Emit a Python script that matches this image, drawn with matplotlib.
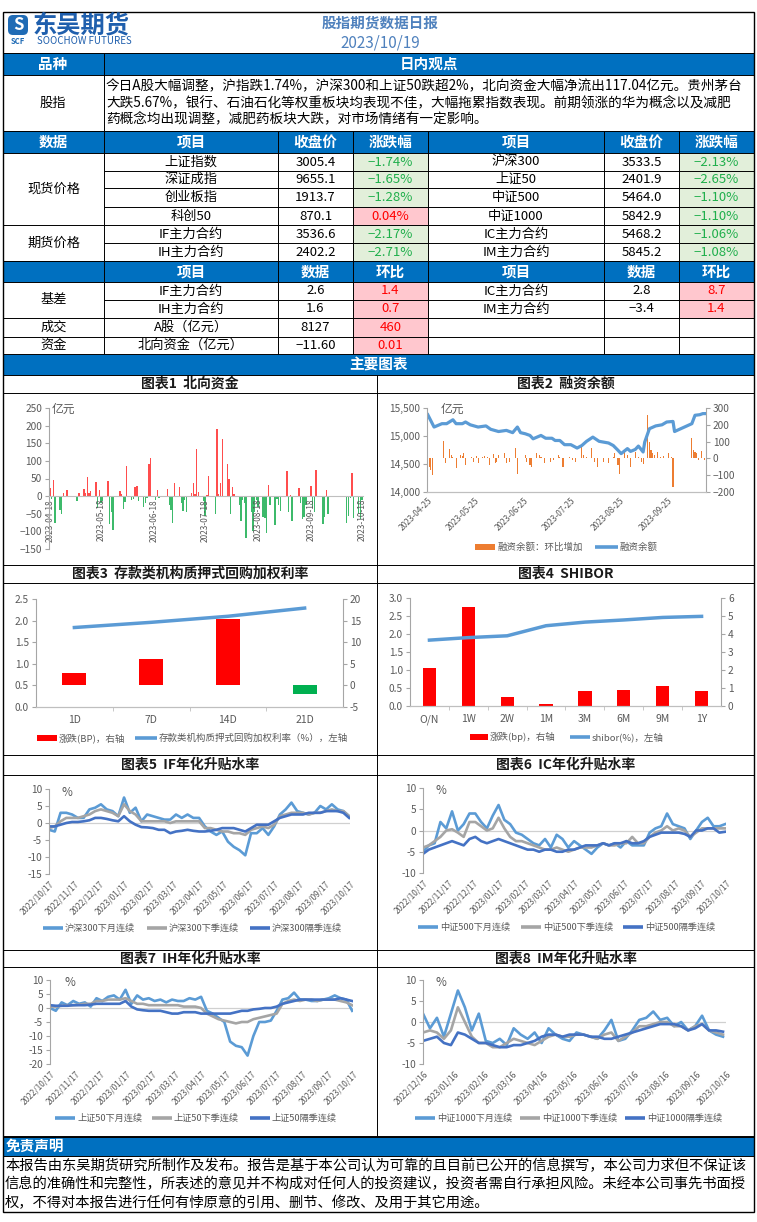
import matplotlib
matplotlib.use('Agg')
import matplotlib.pyplot as plt
from matplotlib.patches import Rectangle, FancyBboxPatch
from matplotlib.ticker import FuncFormatter
import matplotlib.dates as mdates
import numpy as np
import pandas as pd

plt.rcParams['font.family'] = ['Noto Sans CJK SC', 'DejaVu Sans']

W, H = 757, 1222
BLUE = '#0070C0'
GRAY_TXT = '#595959'
AXIS_C = '#BFBFBF'
RED_TXT, RED_BG = '#FF0000', '#FFC7CE'
GRN_TXT, GRN_BG = '#1FAF4B', '#E2EFDA'
C_M, C_Q, C_N = '#5B9BD5', '#A5A5A5', '#4472C4'

# ---------------- table data ----------------
report_date = '2023/10/19'
comment = ['今日A股大幅调整，沪指跌1.74%，沪深300和上证50跌超2%，北向资金大幅净流出117.04亿元。贵州茅台',
           '大跌5.67%，银行、石油石化等权重板块均表现不佳，大幅拖累指数表现。前期领涨的华为概念以及减肥',
           '药概念均出现调整，减肥药板块大跌，对市场情绪有一定影响。']

spot_names_l = ['上证指数', '深证成指', '创业板指', '科创50']
spot_close_l = [3005.4, 9655.1, 1913.7, 870.1]
spot_chg_l = [-1.74, -1.65, -1.28, 0.04]
spot_names_r = ['沪深300', '上证50', '中证500', '中证1000']
spot_close_r = [3533.5, 2401.9, 5464.0, 5842.9]
spot_chg_r = [-2.13, -2.65, -1.10, -1.10]

fut_names_l = ['IF主力合约', 'IH主力合约']
fut_close_l = [3536.6, 2402.2]
fut_chg_l = [-2.17, -2.71]
fut_names_r = ['IC主力合约', 'IM主力合约']
fut_close_r = [5468.2, 5845.2]
fut_chg_r = [-1.06, -1.08]

basis_names_l = ['IF主力合约', 'IH主力合约']
basis_l = [2.6, 1.6]
basis_chg_l = [1.4, 0.7]
basis_names_r = ['IC主力合约', 'IM主力合约']
basis_r = [2.8, -3.4]
basis_chg_r = [8.7, 1.4]

misc_names = ['A股（亿元）', '北向资金（亿元）']
misc_vals = [8127, -11.60]
misc_chg = [460, 0.01]
misc_fmt = ['{:.0f}', '{:.2f}']

disclaimer = ['本报告由东吴期货研究所制作及发布。报告是基于本公司认为可靠的且目前已公开的信息撰写，本公司力求但不保证该',
              '信息的准确性和完整性，所表述的意见并不构成对任何人的投资建议，投资者需自行承担风险。未经本公司事先书面授',
              '权，不得对本报告进行任何有悖原意的引用、删节、修改、及用于其它用途。']

# ---------------- chart 1: northbound flow (亿元), trading days ----------------
nb_dates = pd.bdate_range('2023-04-18', '2023-10-18')
nb_vals = [22, -8, 47, -75, -40, -50, 8, 0, 16,
           0, 0, 0, -15, 8, 20, 10, 55, 8, 14, 40, -33, 16, -20, -15, 43, -80, -45, -95, 0, 14, 6, -37,
           -17, 86, -12, -8, 25, 30, -15, -30, -20, -5, 92, 107, -12, 18, -5, 0, 0, 20, -25, -40, -75, 36,
           27, -20, -43, -12, -45, 10, 36, 5, 135, 12, -15, -55, 2, 58, 0, -52, 190, 5, 37, 163, 92,
           48, -50, 27, 5, -25, -70, -12, -20, -120, -45, -100, -45, -12, -30, -60, -62, -105, 32, -25, -82, -8, -25, -42,
           0, 70, -45, 4, -70, 0, 22, -20, -65, -60, -25, 30, -35, -45, 75, 0, -80, -60, 18, -50, 0,
           0, 0, 0, 0, 0, -75, -55, -5, 67, -62, -50, -65, -11.6]
nb_ticks = pd.date_range('2023-04-18', '2023-10-18', freq=pd.DateOffset(months=1))

# ---------------- chart 2: margin balance ----------------
mr_start = pd.Timestamp('2023-04-25')
mr_bar_days = [0, 1, 2, 3, 10, 11, 14, 15, 16, 18, 21, 22, 23, 24, 28, 29, 31, 32, 35, 36, 38, 39, 42, 43, 44, 45,
               49, 50, 52, 56, 57, 62, 63, 65, 66, 69, 71, 72, 74, 77, 78, 80, 83, 84, 86, 90, 92, 94, 98, 99, 101,
               104, 106, 108, 112, 115, 118, 119, 121, 122, 125, 127, 129, 132, 134, 136, 137, 140, 141, 142, 143,
               144, 146, 148, 150, 153, 155, 156, 168, 169, 170, 171, 172, 174, 176]
mr_bar_vals = [-80, -50, -70, -100, 105, -30, 55, 20, 10, -60, 20, 15, 35, -40, 10, -20, 15, -30, 10, 15, 10, -40,
               25, -30, -20, 20, 30, -30, -20, 60, -90, 20, -20, -40, -50, 30, 20, 10, -30, 5, -20, -10, 20, 10,
               -50, 10, -10, -20, 70, 20, 10, 60, -20, -50, -20, -30, 10, 30, -40, -90, 40, 20, -50, 40, 10, -20,
               -35, 260, 100, 50, 30, 20, 40, 10, 15, 35, 10, -170, 120, 50, 40, 30, -10, 45, -10]
mr_line_days = [0, 4, 9, 12, 16, 18, 22, 24, 27, 32, 37, 40, 45, 50, 54, 57, 59, 62, 65, 67, 72, 75, 79, 81, 84,
                87, 91, 95, 98, 101, 105, 109, 112, 115, 118, 121, 123, 127, 129, 132, 134, 137, 138, 141, 145,
                149, 152, 156, 157, 168, 170, 173, 175, 177]
mr_line_vals = [15380, 15160, 15220, 15220, 15290, 15220, 15220, 15250, 15200, 15160, 15180, 15120, 15080, 15100,
                15060, 15160, 15060, 15040, 15010, 14950, 15010, 14960, 14960, 14920, 14920, 14845, 14845, 14785,
                14830, 14905, 14980, 14905, 14890, 14875, 14830, 14745, 14685, 14775, 14725, 14760, 14820, 14715,
                14890, 15130, 15180, 15200, 15250, 15260, 15080, 15220, 15370, 15380, 15400, 15400]
mr_ticks = pd.date_range('2023-04-25', '2023-09-25', freq=pd.DateOffset(months=1))

# ---------------- chart 3: repo rates ----------------
repo_terms = ['1D', '7D', '14D', '21D']
repo_rate = [1.84, 1.96, 2.10, 2.29]
repo_chg = [2.8, 6.0, 15.3, -2.1]

# ---------------- chart 4: SHIBOR ----------------
shibor_terms = ['O/N', '1W', '2W', '1M', '3M', '6M', '9M', '1Y']
shibor_rate = [1.83, 1.90, 1.95, 2.23, 2.33, 2.39, 2.46, 2.49]
shibor_chg = [2.1, 5.5, 0.5, 0.13, 0.82, 0.91, 1.12, 0.82]

# ---------------- charts 5-8: annualised basis (weekly samples) ----------------
basis_dates = pd.date_range('2022-10-17', periods=53, freq='7D')
basis_ticks = pd.date_range('2022-10-17', '2023-10-17', freq=pd.DateOffset(months=1))
if_m = [-2, -2.5, 3, 3, 2.5, 1.5, 1.5, 4, 4.5, 5.5, 4, 3.5, 2, 7.5, 3, 4.5, 0.5, 2.5, 2, 1.5,
        1, 1, 2.5, 1.5, 2.5, 1.5, 1.5, -1, -2.5, -3.5, -2.5, -5.5, -7, -8, -9.5, -3, -3, -1.5, -3.5, -1,
        2.5, 4, 6, 3.5, 3, 2.5, 3, 5, 4, 5.5, 4, 3.5, 2]
if_q = [-1.5, -1, 0.5, 1.5, 1.5, 1.5, 2, 2.5, 3.5, 4, 3.5, 3, 2, 5.5, 3.5, 2.5, 0.5, 0.5, 0.5, 0.5,
        0.5, 0, 0.5, 0.5, 0.5, 0.5, 0.5, -1.5, -1.5, -2, -2.5, -2.5, -3, -3, -3.5, -2, -1.5, -1, -1.5, -0.5,
        2, 2.5, 3, 3, 3, 2.5, 3, 3, 3.5, 4, 3.5, 3.5, 2]
if_n = [-1, -1, -0.5, 0, 0.3, 0.3, 0.5, 0.8, 1.5, 1.5, 1.2, 0.8, 0.5, 2, 0.5, -0.5, -1.2, -1.3, -1.5, -2,
        -2, -3, -2.5, -2.3, -2, -2.3, -2.5, -2.5, -2.3, -2, -1.5, -1.5, -1.5, -2, -2.5, -1.5, -0.5, -0.5, -0.5, 0.5,
        1.5, 2, 2.5, 2.5, 2.5, 3, 3, 3, 3.5, 3.5, 3.5, 3, 1.5]

ic_m = [-5, -3.5, -3, 2, 0.5, 4.5, 0, 1.5, 4, 4, 2, 0.5, 3.5, 6, 2.5, 1.5, -0.5, -1, -2, -3,
        -3.5, -2, -4, -1, -2, -4, -2.5, -3.5, -4.5, -5.5, -4, -3, -3.5, -3, -4, -2.5, -3.5, -3.5, -3.5, -0.5,
        0.5, 1, 4, 1.5, 1, 0.5, -2, 0, 2, 3, 1, 1, 1.5]
ic_q = [-4, -3.5, -2.5, -1.5, 0, 0.3, -0.5, -1.5, 2, 2, 1, 0, 0.5, 3, 0.5, -1.5, -2.5, -2.5, -3, -3.5,
        -4, -4.5, -4.5, -4, -4.5, -5, -4.5, -4, -4, -4, -3.5, -3, -3.5, -3.5, -3, -3, -1.5, -3, -3, -1.5,
        -0.5, 0, 1, 0, 0.5, 0, -1.5, -0.5, 0.5, 0.5, 0.5, 0.5, 0.5]
ic_n = [-5.5, -4.5, -4, -3.5, -3, -2.5, -3, -3.5, -2, -1.5, -2.5, -3, -2.5, -2, -2.5, -3, -3.5, -4, -4.5, -4.5,
        -5, -4.5, -4.5, -5, -5, -4.5, -4.5, -4, -3.5, -3.5, -3.5, -3, -3.5, -3, -3, -2.5, -3, -3, -2.5, -1.5,
        -1, -0.5, -0.5, -0.5, -0.5, -0.8, -1.5, 0, 0, 0.5, 0.5, -0.5, -0.3]

ih_m = [0, -1, 2, 1, 2.5, 1.5, 2, 0.5, 3.5, 2.5, 4, 4.5, 3, 6.5, 1.5, 4.5, 3, 3.5, 2.5, 3,
        2, 3, 2.5, 2.5, 3.5, 3, 4, -1, -2, -3.5, -5, -12, -13.5, -14, -17, -10, -5, -5, -4.5, -1,
        3, 3.5, 5.5, 3, 3, 2.5, 2.5, 3, 3.5, 4.5, 3.5, 3, -1]
ih_q = [0.5, 0.5, 0.8, 1, 1, 1.2, 1.5, 1.5, 2.5, 2.5, 3, 3, 3, 3.5, 2.5, 1.5, 1.5, 1, 1, 1,
        1, 1, 1, 0.5, 0.5, 0.5, 0, -2, -3, -4, -4.5, -5, -5.5, -5, -5, -4, -3.5, -3, -2.5, -2,
        1.5, 2.5, 3, 2.5, 3, 3, 2.5, 3, 3, 3, 2.5, 2, 1]
ih_n = [1, 0.8, 0.8, 0.8, 1, 1, 1, 1.2, 1.5, 1.5, 1.5, 1.5, 1.5, 2.5, 0.5, -0.5, -0.8, -1, -1, -1,
        -1.5, -2, -2, -1.5, -1.5, -1.5, -2, -2, -2, -2, -2, -2, -1.5, -1, -1, -0.5, -0.3, 0, 0, 0.5,
        1.5, 2, 2.5, 3, 3, 3, 3, 3, 3, 3, 3.5, 3, 2.5]

im_dates = pd.date_range('2022-12-16', periods=44, freq='7D')
im_ticks = pd.date_range('2022-12-16', '2023-10-16', freq=pd.DateOffset(months=1))
im_m = [2, -1.5, 1, -3.5, 2, 7.5, 3.5, -2, 2, -4.5, -5, -4, -5.5, -1.5, -3, -4, -2.5, -5, -1.5, -3,
        -4, -4.5, -2.5, -3, -3.5, -4, -2, 0.5, -4.5, -4, -2, 0.5, 1, 2.5, 0.5, 1, -1, 0, -2, -1,
        1.5, -2, -3, -3.5]
im_q = [-2.5, -2, -2.5, -4, -2, 3.5, 0, -3.5, -5, -5, -6, -6, -5, -4, -4.5, -5, -5.5, -4.5, -3.5, -3,
        -3.5, -3.5, -3, -3, -3.5, -4, -3, -2.5, -4.5, -3.5, -2.5, -1, -1, -0.5, 0, 0, -1, -1, -2, -1,
        -0.5, -2, -2.5, -3]
im_n = [-4.5, -4, -3.5, -5, -5.5, -2.5, -3, -4, -5, -5, -5.5, -6, -6, -5.5, -5.5, -5, -4.5, -3.5, -3, -3,
        -3.5, -3, -3, -3, -3.5, -3.5, -4, -4, -3.5, -3, -2.5, -2, -1.5, -1, -0.5, -0.5, -0.5, -1, -2, -1.5,
        -0.5, -2, -2, -2.3]

# ================= drawing =================
fig = plt.figure(figsize=(W / 100, H / 100), dpi=100)
bg = fig.add_axes([0, 0, 1, 1])
bg.set_xlim(0, W)
bg.set_ylim(H, 0)
bg.axis('off')


def box(x0, y0, x1, y1):
    ax = fig.add_axes([x0 / W, 1 - y1 / H, (x1 - x0) / W, (y1 - y0) / H])
    ax.set_facecolor('none')
    return ax


def rect(x0, y0, x1, y1, fc):
    bg.add_patch(Rectangle((x0, y0), x1 - x0, y1 - y0, fc=fc, ec='none'))


def hl(y, x0=3, x1=754, lw=0.7):
    bg.plot([x0, x1], [y, y], color='black', lw=lw, solid_capstyle='butt')


def vl(x, y0, y1, lw=0.7):
    bg.plot([x, x], [y0, y1], color='black', lw=lw, solid_capstyle='butt')


def txt(x, y, s, size=9.5, color='black', ha='center', weight='normal'):
    bg.text(x, y, s, fontsize=size, color=color, ha=ha, va='center', fontweight=weight)


def pct(v):
    return f'{v:.2f}%'.replace('-', '−')


def num(v, f='{:.1f}'):
    return f.format(v).replace('-', '−')


# ---- header ----
bg.add_patch(FancyBboxPatch((8, 15), 20, 20, boxstyle='round,pad=0,rounding_size=5', fc='#1F6BB5', ec='none'))
txt(18, 25, 'S', 12, 'white', weight='bold')
txt(18, 41, 'SCF', 5.5, '#1F6BB5', weight='bold')
txt(33, 25, '东吴期货', 17.5, '#1F5FAD', ha='left', weight='bold')
txt(37, 41, 'SOOCHOW FUTURES', 7, '#1F5FAD', ha='left')
txt(380, 23, '股指期货数据日报', 10.5, '#4F81BD', weight='bold')
txt(380, 43, report_date, 11, '#4F81BD')

# ---- 品种 / 日内观点 ----
rect(3, 53, 754, 75, BLUE)
txt(53, 64, '品种', 10.5, 'white', weight='bold')
txt(429, 64, '日内观点', 10.5, 'white', weight='bold')
txt(53, 103, '股指', 9.5)
for i, line in enumerate(comment):
    txt(106, 86.5 + i * 16.5, line, 9.8, ha='left')

# ---- data table ----
xs = [3, 104, 278, 353, 428, 604, 679, 754]
cx = [(xs[i] + xs[i + 1]) / 2 for i in range(7)]
hdr1 = ['数据', '项目', '收盘价', '涨跌幅', '项目', '收盘价', '涨跌幅']
hdr2 = ['', '项目', '数据', '环比', '项目', '数据', '环比']
rect(3, 131, 754, 153, BLUE)
rect(3, 261, 754, 282, BLUE)
for i in range(7):
    txt(cx[i], 142, hdr1[i], 10.5, 'white', weight='bold')
    if hdr2[i]:
        txt(cx[i], 271.5, hdr2[i], 10.5, 'white', weight='bold')

ry = [153, 171, 188, 207, 225, 243, 261]
names_l = spot_names_l + fut_names_l
close_l = spot_close_l + fut_close_l
chg_l = spot_chg_l + fut_chg_l
names_r = spot_names_r + fut_names_r
close_r = spot_close_r + fut_close_r
chg_r = spot_chg_r + fut_chg_r
for i in range(6):
    yc = (ry[i] + ry[i + 1]) / 2
    for side, (nm, cl, cg) in enumerate([(names_l, close_l, chg_l), (names_r, close_r, chg_r)]):
        k = 1 + side * 3
        ok = cg[i] < 0
        rect(xs[k + 2], ry[i], xs[k + 3], ry[i + 1], GRN_BG if ok else RED_BG)
        txt(cx[k], yc, nm[i])
        txt(cx[k + 1], yc, num(cl[i]))
        txt(cx[k + 2], yc, pct(cg[i]), color=GRN_TXT if ok else RED_TXT)
txt(cx[0], (153 + 225) / 2, '现货价格')
txt(cx[0], (225 + 261) / 2, '期货价格')

ly = [282, 300, 318, 337, 354]
for i in range(2):
    yc = (ly[i] + ly[i + 1]) / 2
    for side, (nm, v, c) in enumerate([(basis_names_l, basis_l, basis_chg_l), (basis_names_r, basis_r, basis_chg_r)]):
        k = 1 + side * 3
        rect(xs[k + 2], ly[i], xs[k + 3], ly[i + 1], RED_BG if c[i] > 0 else GRN_BG)
        txt(cx[k], yc, nm[i])
        txt(cx[k + 1], yc, num(v[i]))
        txt(cx[k + 2], yc, num(c[i]), color=RED_TXT if c[i] > 0 else GRN_TXT)
for i in range(2):
    yc = (ly[i + 2] + ly[i + 3]) / 2
    rect(xs[3], ly[i + 2], xs[4], ly[i + 3], RED_BG if misc_chg[i] > 0 else GRN_BG)
    txt(cx[1], yc, misc_names[i])
    txt(cx[2], yc, num(misc_vals[i], misc_fmt[i]))
    txt(cx[3], yc, num(misc_chg[i], misc_fmt[i]), color=RED_TXT if misc_chg[i] > 0 else GRN_TXT)
txt(cx[0], 300, '基差')
txt(cx[0], 327.5, '成交')
txt(cx[0], 345.5, '资金')

# grid lines of the table
for y in [53, 75, 131, 153, 261, 282, 354]:
    hl(y)
for y in ry[1:-1] + ly[1:-1]:
    hl(y, 104, 754)
for y in [225, 318, 337]:
    hl(y, 3, 104)
vl(104, 53, 354)
for x in xs[2:-1]:
    vl(x, 131, 354)

# ---- charts section frame ----
rect(3, 355, 754, 375, BLUE)
txt(378, 365, '主要图表', 10.5, 'white', weight='bold')
for y in [375, 393, 565, 583, 755, 775, 950, 967, 1136]:
    hl(y)
vl(377, 375, 1136)
titles = [('图表1  北向资金', '图表2  融资余额', 384),
          ('图表3  存款类机构质押式回购加权利率', '图表4  SHIBOR', 574),
          ('图表5  IF年化升贴水率', '图表6  IC年化升贴水率', 765),
          ('图表7  IH年化升贴水率', '图表8  IM年化升贴水率', 958.5)]
for tl, tr, ty in titles:
    txt(190, ty, tl, 10, '#1A1A1A', weight='bold')
    txt(566, ty, tr, 10, '#1A1A1A', weight='bold')


def leg_line(x0, x1, y, c, label, size=6.6):
    bg.plot([x0, x1], [y, y], color=c, lw=2.6, solid_capstyle='butt')
    txt(x1 + 2, y, label, size, GRAY_TXT, ha='left')


def leg_rect(x0, x1, y, c, label, size=6.8):
    rect(x0, y - 3, x1, y + 3, c)
    txt(x1 + 2, y, label, size, GRAY_TXT, ha='left')


def yaxis_style(ax, side='left'):
    ax.spines[side].set_color('#A6A6A6')
    ax.tick_params(axis='y', length=3, color='#A6A6A6', labelsize=7.3, labelcolor=GRAY_TXT, pad=2)


# ---- chart 1 ----
ax1 = box(49, 408, 363, 549)
ax1.bar(nb_dates, nb_vals, width=0.8, lw=0,
        color=['#FF4D4D' if v >= 0 else '#3DBA6B' for v in nb_vals])
ax1.set_ylim(-150, 250)
ax1.set_yticks(range(-150, 251, 50))
ax1.set_xlim(pd.Timestamp('2023-04-17 12:00'), pd.Timestamp('2023-10-18 12:00'))
ax1.spines[['top', 'right']].set_visible(False)
ax1.spines['bottom'].set_position(('data', 0))
ax1.spines['bottom'].set_color(AXIS_C)
ax1.set_xticks(nb_ticks)
ax1.xaxis.set_major_formatter(mdates.DateFormatter('%Y-%m-%d'))
ax1.tick_params(axis='x', length=0, labelsize=6, labelcolor=GRAY_TXT, labelrotation=90, pad=2)
yaxis_style(ax1)
txt(52, 409, '亿元', 8.5, GRAY_TXT, ha='left')

# ---- chart 2 ----
ax2 = box(427, 408, 706, 492)
ax2r = ax2.twinx()
ax2r.bar(mr_start + pd.to_timedelta(mr_bar_days, unit='D'), mr_bar_vals, width=0.7, color='#ED7D31', lw=0)
ax2.plot(mr_start + pd.to_timedelta(mr_line_days, unit='D'), mr_line_vals, color=C_M, lw=2.3)
ax2.set_zorder(ax2r.get_zorder() + 1)
ax2.patch.set_visible(False)
ax2.set_ylim(14000, 15500)
ax2.set_yticks(range(14000, 15501, 500))
ax2.yaxis.set_major_formatter(FuncFormatter(lambda v, p: f'{v:,.0f}'))
ax2r.set_ylim(-200, 300)
ax2r.set_yticks(range(-200, 301, 100))
ax2.set_xlim(mr_start - pd.Timedelta(days=0.5), pd.Timestamp('2023-10-19'))
ax2.set_xticks(mr_ticks)
ax2.xaxis.set_major_formatter(mdates.DateFormatter('%Y-%m-%d'))
plt.setp(ax2.get_xticklabels(), rotation=45, ha='right', rotation_mode='anchor')
ax2.tick_params(axis='x', length=0, labelsize=6, labelcolor=GRAY_TXT, pad=3)
for a in (ax2, ax2r):
    a.spines[['top']].set_visible(False)
    a.spines['bottom'].set_color(AXIS_C)
ax2.spines['right'].set_visible(False)
ax2r.spines['left'].set_visible(False)
yaxis_style(ax2)
yaxis_style(ax2r, 'right')
txt(441, 409, '亿元', 8.5, GRAY_TXT, ha='left')
leg_rect(475, 495, 547, '#ED7D31', '融资余额：环比增加')
leg_line(595, 618, 547, C_M, '融资余额', 6.8)


def bar_line_chart(bx, terms, rate, chg, ylim_l, step_l, ylim_r, step_r, width):
    ax = box(*bx)
    axr = ax.twinx()
    xpos = np.arange(len(terms))
    axr.bar(xpos, chg, width=width, lw=0, color=['#FF0000' if v >= 0 else '#00B050' for v in chg])
    ax.plot(xpos, rate, color=C_M, lw=2.5)
    ax.set_zorder(axr.get_zorder() + 1)
    ax.patch.set_visible(False)
    ax.set_xlim(-0.5, len(terms) - 0.5)
    ax.set_xticks(xpos)
    ax.set_xticklabels(terms)
    ax.set_xticks(np.arange(0.5, len(terms) - 1, 1), minor=True)
    ax.set_ylim(*ylim_l)
    ax.set_yticks(np.arange(ylim_l[0], ylim_l[1] + 0.01, step_l))
    ax.yaxis.set_major_formatter(FuncFormatter(lambda v, p: f'{v:.1f}'))
    axr.set_ylim(*ylim_r)
    axr.set_yticks(np.arange(ylim_r[0], ylim_r[1] + 0.01, step_r))
    axr.yaxis.set_major_formatter(FuncFormatter(lambda v, p: f'{v:g}'))
    for a in (ax, axr):
        a.spines['top'].set_visible(False)
        a.spines['bottom'].set_color(AXIS_C)
    ax.spines['right'].set_visible(False)
    axr.spines['left'].set_visible(False)
    yaxis_style(ax)
    yaxis_style(axr, 'right')
    ax.tick_params(axis='x', which='major', length=0, labelsize=7.5, labelcolor=GRAY_TXT, pad=6)
    ax.tick_params(axis='x', which='minor', length=3, color=AXIS_C)
    return ax


bar_line_chart((36, 599, 343, 707), repo_terms, repo_rate, repo_chg, (0, 2.5), 0.5, (-5, 20), 5, 0.31)
leg_rect(37, 57, 738, '#FF0000', '涨跌(BP)，右轴')
leg_line(135, 157, 738, C_M, '存款类机构质押式回购加权利率（%），左轴', 6.8)

bar_line_chart((410, 598, 721, 706), shibor_terms, shibor_rate, shibor_chg, (0, 3), 0.5, (0, 6), 1, 0.34)
leg_rect(470, 488, 737, '#FF0000', '涨跌(bp)，右轴')
leg_line(570, 590, 737, C_M, 'shibor(%)，左轴', 6.8)


def basis_chart(bx, dates, series, ylo, yhi, ticks, pct_xy):
    ax = box(*bx)
    ax.axhline(0, color='#D0D0D0', lw=0.9, zorder=0)
    for vals, c in zip(series, [C_M, C_Q, C_N]):
        ax.plot(dates, vals, color=c, lw=1.9)
    ax.set_ylim(ylo, yhi)
    ax.set_yticks(range(ylo, yhi + 1, 5))
    ax.yaxis.set_major_formatter(FuncFormatter(lambda v, p: f'{v:g}'))
    ax.set_xlim(ticks[0], ticks[-1])
    ax.set_xticks(ticks)
    ax.xaxis.set_major_formatter(mdates.DateFormatter('%Y/%m/%d'))
    plt.setp(ax.get_xticklabels(), rotation=45, ha='right', rotation_mode='anchor')
    ax.spines[['top', 'right', 'bottom']].set_visible(False)
    ax.tick_params(axis='x', length=0, labelsize=6, labelcolor=GRAY_TXT, pad=4)
    yaxis_style(ax)
    txt(pct_xy[0], pct_xy[1], '%', 8.5, GRAY_TXT)
    return ax


basis_chart((49, 789, 350, 874), basis_dates, [if_m, if_q, if_n], -15, 10, basis_ticks, (67, 792))
basis_chart((423, 788, 726, 873), basis_dates, [ic_m, ic_q, ic_n], -10, 10, basis_ticks, (441, 790))
basis_chart((50, 980, 353, 1064), basis_dates, [ih_m, ih_q, ih_n], -20, 10, basis_ticks, (70, 982))
basis_chart((423, 980, 726, 1064), im_dates, [im_m, im_q, im_n], -10, 10, im_ticks, (441, 982))

legends = [(928, (43, 147, 250), '沪深300'), (927, (418, 521, 623), '中证500'),
           (1118, (55, 152, 250), '上证50'), (1118, (415, 520, 625), '中证1000')]
for y, xs3, nm in legends:
    for x0, c, suf in zip(xs3, [C_M, C_Q, C_N], ['下月连续', '下季连续', '隔季连续']):
        leg_line(x0, x0 + 20, y, c, nm + suf)

# ---- disclaimer ----
rect(3, 1137, 754, 1156, BLUE)
hl(1137)
hl(1156)
txt(6, 1146.5, '免责声明', 10.5, 'white', ha='left', weight='bold')
for i, line in enumerate(disclaimer):
    txt(5, 1166 + i * 18.5, line, 10.3, ha='left')

# outer frame
bg.add_patch(Rectangle((3, 12), 751, 1200, fc='none', ec='black', lw=1.0))

fig.savefig('out.png', dpi=100)
